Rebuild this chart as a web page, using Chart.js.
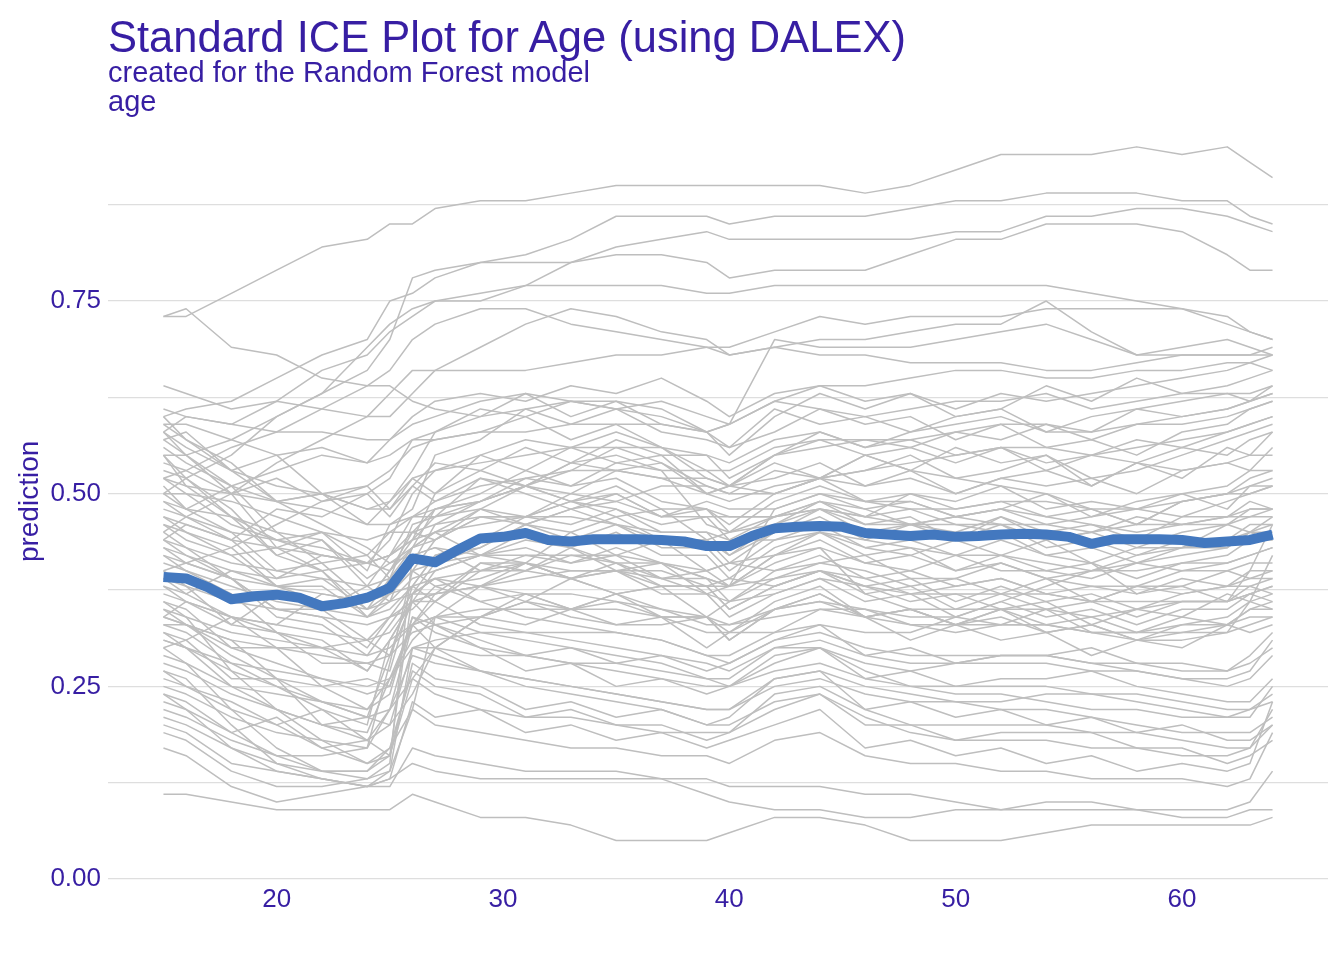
<!DOCTYPE html>
<html><head><meta charset="utf-8">
<script src="https://cdn.jsdelivr.net/npm/chart.js@4.4.1/dist/chart.umd.min.js"></script>
<style>
html,body{margin:0;padding:0;background:#fff;width:1344px;height:960px;overflow:hidden;}
#wrap{position:relative;width:1344px;height:960px;}
canvas{position:absolute;left:0;top:0;}
.t{position:absolute;left:108px;font-family:'Liberation Sans',Arial,sans-serif;color:#371ea3;line-height:1;white-space:nowrap;}
#title{top:16px;font-size:43.5px;}
#sub{top:57.5px;font-size:29px;}
#facet{top:86.5px;font-size:29px;}
</style></head>
<body><div id="wrap"><canvas id="c" width="1344" height="960"></canvas>
<div class="t" id="title">Standard ICE Plot for Age (using DALEX)</div>
<div class="t" id="sub">created for the Random Forest model</div>
<div class="t" id="facet">age</div></div>
<script>
// ages at which the individual (grey) profiles are read
const gridAges = [15,16,18,20,22,24,25,26,27,29,31,33,35,37,39,40,42,44,46,48,50,52,54,56,58,60,62,63,64];
// individual profiles, values in hundredths of the prediction
const highProfiles = [
[73,73,76,79,82,83,85,85,87,88,88,89,90,90,90,90,90,90,89,90,92,94,94,94,95,94,95,93,91],
[60,61,62,65,68,70,75,76,78,80,81,83,86,86,86,85,86,86,86,87,88,88,89,89,89,88,88,86,85],
[55,55,57,60,63,66,70,78,79,80,80,80,82,83,84,83,83,83,83,83,84,84,86,86,87,87,86,85,84],
[50,52,55,60,63,69,72,74,75,75,77,80,81,81,80,78,79,79,79,81,83,83,85,85,85,84,81,79,79],
[73,74,69,68,65,64,64,62,61,60,61,62,62,61,58,59,62,61,60,61,62,62,63,61,62,63,63,63,64],
[58,60,59,62,66,68,71,73,75,76,77,77,77,77,76,76,77,77,77,77,77,77,77,76,75,74,72,71,70],
[52,53,56,58,61,64,66,70,72,74,74,72,71,70,69,68,69,70,70,71,72,72,75,71,68,69,70,69,68],
[45,47,50,54,57,60,63,66,66,66,66,67,68,68,69,69,71,73,72,73,73,73,74,74,74,74,73,71,70],
[40,41,43,46,49,51,53,56,57,58,58,59,59,59,58,59,70,69,69,69,70,71,72,70,68,68,68,68,69],
[64,63,61,62,61,60,60,63,66,69,72,74,73,71,70,68,69,68,68,67,67,67,66,66,67,68,68,68,68],
[50,48,51,53,55,54,57,60,62,63,62,64,63,65,62,60,63,64,62,63,61,63,62,63,64,65,66,67,66],
[44,46,44,48,47,50,52,57,58,61,60,62,61,60,58,56,61,59,60,58,59,60,58,60,61,62,63,62,64],
[38,37,40,39,42,41,44,50,53,55,57,56,58,56,55,54,57,58,56,57,55,56,54,55,57,56,58,59,60]
];
const midProfiles = [
[61,60,59,58,58,57,57,59,60,62,63,62,61,62,60,59,62,64,64,65,66,66,65,65,66,66,67,67,68],
[60,57,54,49,50,46,49,53,58,60,63,60,62,59,58,55,60,63,61,63,60,61,64,62,65,63,64,65,66],
[59,59,57,55,56,54,55,57,57,58,60,57,59,56,52,51,55,58,56,58,60,61,58,58,61,60,61,62,63],
[58,55,50,43,45,40,46,48,55,57,61,59,61,58,57,56,58,61,59,60,57,59,56,57,55,58,59,61,62],
[57,58,53,55,50,51,48,52,50,55,53,56,54,55,50,51,54,52,55,53,56,54,55,51,54,52,56,55,58],
[56,54,51,49,50,48,48,51,54,53,51,53,56,54,51,50,53,52,53,55,52,53,55,52,53,55,57,58,59],
[55,51,47,42,44,38,42,44,50,53,56,54,57,55,55,52,55,57,55,56,54,56,53,55,54,56,55,57,58],
[54,53,50,52,49,50,47,51,49,52,50,48,50,47,49,48,48,50,48,49,47,48,50,47,49,50,48,51,51],
[53,52,47,45,41,42,39,46,47,52,51,54,53,54,50,51,52,54,51,52,50,52,51,52,50,53,54,53,56],
[52,51,50,49,48,46,46,47,48,49,51,50,53,52,52,51,50,52,55,53,52,51,50,48,46,49,50,51,52],
[51,48,45,40,41,36,40,43,48,50,53,51,52,49,48,46,50,52,49,50,48,49,47,48,46,49,50,52,53],
[50,50,49,47,45,44,45,47,47,48,46,48,49,47,48,47,47,49,48,46,47,48,47,46,44,47,47,48,48],
[49,47,44,39,40,35,39,41,46,49,51,49,51,48,48,45,49,51,49,49,47,48,46,47,48,47,49,50,51],
[48,47,45,44,43,41,42,44,45,46,47,49,48,46,47,47,47,48,46,46,47,46,44,45,47,46,46,47,47],
[47,45,43,38,39,35,37,40,44,47,46,48,46,44,44,42,45,47,44,46,45,47,44,45,43,45,46,48,48],
[30,31,34,33,37,36,40,44,47,49,52,51,54,53,53,51,55,56,57,56,58,57,59,57,59,59,60,61,62],
[34,36,33,37,35,38,36,43,44,48,47,50,49,51,51,50,50,52,51,53,50,52,53,51,54,53,54,55,55],
[59,57,53,49,46,43,41,43,45,42,43,41,42,39,39,36,40,42,39,40,38,39,37,38,37,39,38,40,40],
[57,55,51,45,44,39,41,42,43,40,41,39,40,38,38,35,38,40,37,38,35,37,35,36,34,36,36,38,37],
[55,52,48,42,40,34,36,37,39,36,37,35,36,34,34,31,35,37,34,35,33,35,32,33,31,33,33,35,35],
[44,43,41,40,39,38,39,43,45,48,51,54,55,53,46,45,47,48,47,46,46,46,46,45,46,46,47,47,48],
[42,41,39,38,37,36,37,40,41,42,42,42,42,41,39,38,48,50,49,48,48,49,49,48,48,49,50,50,51],
[46,45,42,43,40,41,40,45,44,47,47,49,47,48,44,45,46,48,47,48,46,45,42,41,37,38,36,40,46],
[45,43,39,35,34,30,34,38,42,43,46,44,46,43,43,40,44,46,43,44,42,44,42,43,41,43,43,45,44],
[43,42,40,38,36,35,36,39,40,42,44,43,41,41,39,38,41,43,41,40,42,40,40,39,41,40,41,42,43],
[42,40,37,32,31,27,31,36,40,42,45,43,45,42,42,39,43,45,42,43,40,42,40,41,39,41,42,44,44],
[41,40,38,36,35,34,35,38,39,40,40,42,41,39,40,41,40,41,42,39,39,41,39,38,38,40,40,41,41],
[40,38,33,32,28,28,27,37,37,41,40,43,40,41,37,38,39,41,40,38,39,37,39,36,38,38,40,39,40],
[39,38,36,35,34,33,34,36,37,38,40,39,37,38,38,39,38,40,39,37,38,39,37,36,38,37,38,38,39],
[38,36,34,30,30,27,31,33,37,38,41,39,41,38,38,35,38,40,38,39,36,38,36,37,35,37,38,39,39],
[37,36,34,33,32,31,32,36,37,38,39,40,40,40,38,38,42,43,37,35,35,35,35,34,35,36,36,37,38],
[36,35,30,30,25,26,25,33,34,38,36,39,37,38,34,36,37,39,38,36,37,35,36,33,35,34,37,36,37],
[35,34,32,31,30,29,30,33,34,35,35,35,35,34,32,32,35,36,35,34,34,33,33,32,31,31,32,36,42],
[34,33,31,26,25,22,26,31,34,34,37,35,37,34,34,31,35,37,34,35,33,35,33,34,32,33,34,36,35],
[33,33,31,30,29,28,29,32,33,34,36,34,33,33,34,33,34,35,35,33,32,33,35,32,32,34,33,34,34],
[32,31,26,26,20,21,20,30,30,34,33,35,33,34,30,32,32,35,34,31,33,31,32,29,31,30,33,32,33],
[31,30,28,27,26,25,26,30,31,32,32,32,32,31,29,29,32,33,32,32,34,36,38,40,42,43,44,45,46],
[58,56,53,51,50,48,49,52,53,54,55,56,56,56,53,53,56,57,57,57,58,59,59,58,59,60,61,62,63],
[52,50,46,44,42,41,42,47,49,51,52,53,53,52,50,49,51,52,53,54,55,56,56,55,56,57,58,59,60],
[46,44,42,38,38,34,37,38,42,44,47,46,48,45,45,42,46,49,47,50,49,51,48,49,48,50,51,53,53],
[44,42,39,34,33,29,33,37,41,43,46,45,47,44,44,41,45,48,45,46,44,47,45,46,45,46,47,49,48],
[39,37,34,32,30,31,29,36,36,41,41,45,42,44,40,41,42,45,43,42,44,42,44,41,43,43,46,45,47],
[47,46,44,43,42,41,42,45,46,47,47,47,46,45,45,44,44,45,44,43,42,42,41,40,40,41,41,42,43],
[43,41,39,35,35,31,34,35,38,39,41,39,40,37,37,34,37,39,36,37,34,36,34,35,33,35,35,37,36],
[49,48,47,44,45,42,45,45,48,49,51,49,50,47,47,44,47,49,46,47,44,46,43,44,42,44,44,46,46],
[27,25,23,20,22,18,22,33,36,40,42,41,43,41,40,38,42,44,41,42,40,41,39,40,41,42,43,45,45],
[23,22,19,21,17,18,16,26,30,34,36,35,37,35,34,32,36,38,34,35,33,34,32,33,31,32,33,35,36]
];
const lowProfiles = [
[11,11,10,9,9,9,9,11,10,8,8,7,5,5,5,6,8,8,7,5,5,5,6,7,7,7,7,7,8],
[17,16,12,10,11,12,13,15,14,13,13,13,13,13,11,10,9,9,8,8,9,9,10,10,9,8,8,9,9],
[20,19,15,14,13,12,12,17,16,15,14,14,14,13,13,12,12,12,11,11,10,9,9,9,9,9,9,10,14],
[22,21,18,16,14,13,14,22,20,19,18,17,17,16,16,15,18,19,16,15,15,14,14,13,13,13,12,13,19],
[24,22,17,14,13,12,13,23,21,22,19,20,18,19,17,18,20,22,17,18,16,17,15,16,14,15,14,15,23],
[25,24,21,19,18,17,22,26,24,22,21,21,20,19,19,19,24,25,22,20,20,20,20,19,19,18,17,17,22],
[26,25,22,20,17,15,16,28,26,25,22,23,21,22,20,21,26,27,22,23,21,22,20,21,19,20,18,18,20],
[28,27,24,22,20,19,26,33,30,27,26,25,24,23,22,22,26,27,25,24,23,23,24,24,23,22,21,21,25],
[29,28,25,24,23,22,24,34,32,30,27,28,25,26,24,25,28,30,26,27,25,26,26,27,25,24,23,23,26],
[30,28,22,17,14,14,17,22,34,32,31,30,29,28,26,26,30,30,27,25,25,25,25,24,24,23,22,22,24],
[31,30,27,25,23,21,29,38,36,33,32,31,30,29,28,27,30,31,29,28,28,28,28,27,27,26,25,26,29],
[32,30,25,22,20,18,20,24,30,29,29,28,28,27,26,25,29,30,28,27,28,29,29,28,27,26,26,27,31],
[33,32,28,25,22,20,31,36,33,30,29,28,27,26,25,25,27,28,26,25,24,24,23,22,22,21,21,22,23],
[34,33,30,28,26,24,25,34,33,31,29,30,28,29,27,28,31,33,29,30,28,29,29,30,28,28,27,29,32],
[35,33,29,26,23,21,22,29,28,27,26,25,24,23,22,22,25,26,24,23,23,22,22,21,20,19,19,19,21],
[36,34,27,22,18,15,17,27,25,24,21,22,20,20,18,19,22,24,20,20,18,19,19,19,17,17,15,16,18],
[27,26,20,15,13,12,14,30,29,27,25,24,23,22,20,20,23,24,21,19,18,18,18,17,17,16,16,17,20],
[24,23,19,16,16,17,28,40,38,36,34,33,32,31,29,28,31,32,30,29,29,29,29,28,28,27,27,28,30],
[21,20,17,15,14,14,16,37,39,38,37,37,36,35,33,33,35,36,34,33,33,33,33,32,32,32,32,33,34],
[19,18,14,12,12,13,15,42,43,42,41,40,40,39,37,36,39,40,38,37,37,37,37,36,36,36,36,37,38]
];
// average (aggregated) profile
const meanAges = [15,16,17,18,19,20,21,22,23,24,25,26,27,28,29,30,31,32,33,34,35,36,37,38,39,40,41,42,43,44,45,46,47,48,49,50,51,52,53,54,55,56,57,58,59,60,61,62,63,64];
const meanValues = [0.392,0.390,0.378,0.363,0.367,0.369,0.365,0.354,0.358,0.365,
0.378,0.416,0.411,0.427,0.442,0.444,0.449,0.440,0.438,0.441,
0.441,0.441,0.440,0.438,0.432,0.432,0.445,0.455,0.457,0.458,
0.457,0.449,0.447,0.445,0.447,0.444,0.445,0.447,0.448,0.447,
0.444,0.435,0.441,0.441,0.441,0.440,0.436,0.438,0.440,0.447];
const xTickValues = [20,30,40,50,60];
const yTickValues = [0,0.25,0.5,0.75];
const yGridValues = [0,0.125,0.25,0.375,0.5,0.625,0.75,0.875];

const FONT = "'Liberation Sans', Arial, sans-serif";
const INK = '#371ea3';
const greyProfiles = [].concat(highProfiles, midProfiles, lowProfiles);
const datasets = greyProfiles.map(p => ({
  data: p.map((v, i) => ({x: gridAges[i], y: v / 100})),
  borderColor: '#bebebe', borderWidth: 1.5, pointRadius: 0, tension: 0, order: 1,
  borderJoinStyle: 'round'
}));
datasets.push({
  data: meanAges.map((a, i) => ({x: a, y: meanValues[i]})),
  borderColor: '#4378bf', borderWidth: 10, pointRadius: 0, tension: 0, order: 0,
  borderJoinStyle: 'round', borderCapStyle: 'butt'
});

new Chart(document.getElementById('c'), {
  type: 'line',
  data: {datasets},
  options: {
    responsive: false, animation: false, devicePixelRatio: 1,
    plugins: {legend: {display: false}, tooltip: {enabled: false}},
    layout: {padding: {top: 119.9, right: 16, left: 0, bottom: 0}},
    scales: {
      x: {
        type: 'linear', min: 12.55, max: 66.45,
        afterBuildTicks: s => { s.ticks = xTickValues.map(v => ({value: v})); },
        afterFit: s => { s.height = 77.1; },
        grid: {display: false}, border: {display: false},
        ticks: {color: INK, font: {family: FONT, size: 26}, padding: -7, maxRotation: 0, autoSkip: false}
      },
      y: {
        type: 'linear', min: -0.005, max: 0.985,
        afterBuildTicks: s => { s.ticks = yGridValues.map(v => ({value: v})); },
        afterFit: s => { s.width = 108; },
        grid: {color: '#dedede', lineWidth: 1.2, drawTicks: false}, border: {display: false},
        ticks: {
          color: INK, font: {family: FONT, size: 26}, padding: 7, autoSkip: false,
          callback: v => yTickValues.some(t => Math.abs(t - v) < 1e-9) ? v.toFixed(2) : ''
        },
        title: {display: true, text: 'prediction', color: INK, font: {family: FONT, size: 28}, padding: {top: 13, bottom: 0}}
      }
    }
  }
});
</script>
</body></html>
